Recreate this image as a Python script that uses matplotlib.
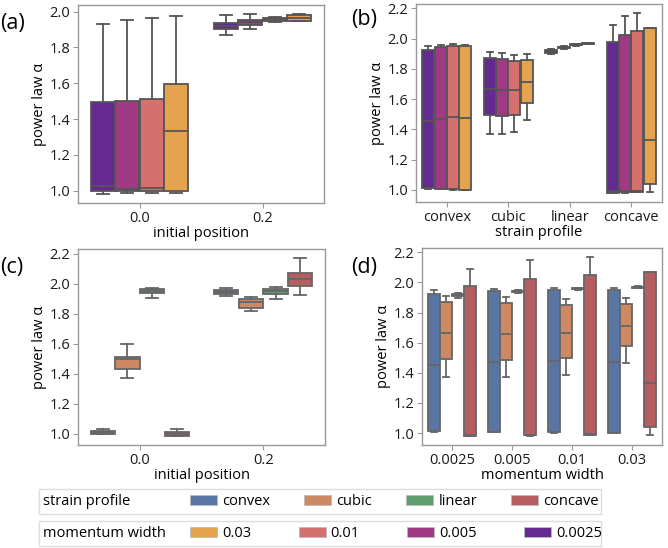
import colorsys

import matplotlib
matplotlib.use("Agg")
import matplotlib.pyplot as plt
import matplotlib.patches as mpatches
import numpy as np

plt.rcParams['font.family'] = ['Open Sans', 'DejaVu Sans']

mw_labels = ['0.0025', '0.005', '0.01', '0.03']
strain_labels = ['convex', 'cubic', 'linear', 'concave']
init_pos = ['0.0', '0.2']

# panel (a): rows = momentum width, cols = initial position
a_lo = [[0.981, 1.867], [0.985, 1.903], [0.987, 1.940], [0.989, 1.948]]
a_q1 = [[1.000, 1.905], [0.996, 1.927], [1.000, 1.946], [1.000, 1.950]]
a_med = [[1.026, 1.920], [1.011, 1.942], [1.014, 1.957], [1.333, 1.964]]
a_q3 = [[1.495, 1.935], [1.503, 1.955], [1.512, 1.966], [1.596, 1.981]]
a_hi = [[1.931, 1.981], [1.951, 1.985], [1.964, 1.970], [1.976, 1.987]]

# panels (b) and (d): rows = momentum width, cols = strain profile
b_lo = [[1.008, 1.371, 1.895, 0.980], [1.006, 1.373, 1.932, 0.983],
        [1.003, 1.386, 1.952, 0.986], [0.998, 1.463, 1.962, 0.989]]
b_q1 = [[1.011, 1.494, 1.908, 0.982], [1.009, 1.487, 1.938, 0.985],
        [1.004, 1.496, 1.955, 0.988], [0.999, 1.576, 1.964, 1.040]]
b_med = [[1.454, 1.666, 1.915, 0.990], [1.470, 1.659, 1.942, 0.990],
         [1.479, 1.662, 1.958, 0.993], [1.474, 1.713, 1.967, 1.331]]
b_q3 = [[1.924, 1.871, 1.922, 1.975], [1.946, 1.865, 1.946, 2.021],
        [1.949, 1.851, 1.961, 2.048], [1.949, 1.856, 1.970, 2.068]]
b_hi = [[1.951, 1.911, 1.930, 2.090], [1.957, 1.902, 1.950, 2.149],
        [1.964, 1.891, 1.963, 2.169], [1.960, 1.898, 1.973, 2.070]]

# panel (c): rows = strain profile, cols = initial position
c_lo = [[1.000, 1.916], [1.373, 1.818], [1.907, 1.896], [0.985, 1.927]]
c_q1 = [[1.002, 1.934], [1.434, 1.836], [1.936, 1.931], [0.987, 1.984]]
c_med = [[1.010, 1.947], [1.499, 1.881], [1.949, 1.949], [1.002, 2.033]]
c_q3 = [[1.020, 1.960], [1.512, 1.896], [1.962, 1.962], [1.013, 2.070]]
c_hi = [[1.030, 1.971], [1.596, 1.911], [1.971, 1.978], [1.035, 2.172]]


def desat(c, prop=0.75):
    r, g, b = matplotlib.colors.to_rgb(c)
    h, l, s = colorsys.rgb_to_hls(r, g, b)
    return colorsys.hls_to_rgb(h, l, s * prop)


mw_colors = ['#652a90', '#a13a85', '#d4706e', '#e5a34e']
strain_colors = [desat(c) for c in ['#4C72B0', '#DD8452', '#55A868', '#C44E52']]

W, H = 668, 548
FS = 10.5
fig = plt.figure(figsize=(W / 100, H / 100), dpi=100)


def rect(x0, y0, x1, y1):
    return [x0 / W, 1 - y1 / H, (x1 - x0) / W, (y1 - y0) / H]


def draw(ax, lo, q1, med, q3, hi, colors, xticks, xlabel, edge):
    lo, q1, med, q3, hi = [np.asarray(v) for v in (lo, q1, med, q3, hi)]
    n_hue, n_x = lo.shape
    width = 0.8 / n_hue
    for i in range(n_hue):
        pos = np.arange(n_x) + (i - (n_hue - 1) / 2) * width
        stats = [dict(whislo=lo[i, j], q1=q1[i, j], med=med[i, j],
                      q3=q3[i, j], whishi=hi[i, j], fliers=[])
                 for j in range(n_x)]
        lp = dict(color=edge, linewidth=1.3)
        ax.bxp(stats, positions=pos, widths=width * 0.98, patch_artist=True,
               showfliers=False, manage_ticks=False,
               boxprops=dict(facecolor=colors[i], edgecolor=edge, linewidth=1.3),
               medianprops=lp, whiskerprops=lp, capprops=lp)
    ax.set_xticks(range(n_x))
    ax.set_xticklabels(xticks)
    ax.set_xlim(-0.5, n_x - 0.5)
    ax.set_xlabel(xlabel, fontsize=FS, labelpad=0)
    ax.set_ylabel('power law α', fontsize=FS, labelpad=2)
    for s in ax.spines.values():
        s.set_color('#999999')
        s.set_linewidth(1.0)
    ax.tick_params(labelsize=FS, length=3.5, width=0.8, color='#999999',
                   labelcolor='#1a1a1a', pad=2)
    ax.yaxis.set_major_formatter(matplotlib.ticker.FormatStrFormatter('%.1f'))


ax_a = fig.add_axes(rect(78, 5, 324, 203))
draw(ax_a, a_lo, a_q1, a_med, a_q3, a_hi, mw_colors, init_pos,
     'initial position', '#555555')
ax_a.set_yticks([1.0, 1.2, 1.4, 1.6, 1.8, 2.0])

ax_b = fig.add_axes(rect(416, 4, 662, 202))
draw(ax_b, b_lo, b_q1, b_med, b_q3, b_hi, mw_colors,
     strain_labels, 'strain profile', '#555555')

ax_c = fig.add_axes(rect(78, 249, 325, 445))
draw(ax_c, c_lo, c_q1, c_med, c_q3, c_hi, strain_colors, init_pos,
     'initial position', '#666666')

ax_d = fig.add_axes(rect(422, 248, 662, 445))
draw(ax_d, np.array(b_lo).T, np.array(b_q1).T, np.array(b_med).T,
     np.array(b_q3).T, np.array(b_hi).T, strain_colors, mw_labels,
     'momentum width', '#666666')

for ax in (ax_b, ax_c, ax_d):
    ax.set_yticks([1.0, 1.2, 1.4, 1.6, 1.8, 2.0, 2.2])

for lab, x, y in [('(a)', 0, 23), ('(b)', 351, 20), ('(c)', 0, 268), ('(d)', 351, 267)]:
    fig.text(x / W, 1 - y / H, lab, fontsize=15.5, va='center', ha='left')


# legend rows
def legend_row(title, labels, colors, y0, y1, spacing):
    fig.patches.append(mpatches.Rectangle((39 / W, 1 - y1 / H), (601 - 39) / W,
                                          (y1 - y0) / H, transform=fig.transFigure,
                                          facecolor='white', edgecolor='#dddddd',
                                          linewidth=1.0))
    fig.text(43 / W, 1 - (y0 + y1) / 2 / H, title, fontsize=FS, va='center')
    handles = [mpatches.Patch(facecolor=c, edgecolor='#bbbbbb', linewidth=0.6)
               for c in colors]
    fig.legend(handles, labels, ncol=len(labels), loc='center left',
               bbox_to_anchor=(190 / W, 1 - (y0 + y1) / 2 / H),
               frameon=False, fontsize=FS, handlelength=1.85,
               handleheight=0.75, handletextpad=0.35, borderaxespad=0,
               borderpad=0, columnspacing=spacing)


legend_row('strain profile', strain_labels, strain_colors, 489, 514, 2.35)
legend_row('momentum width', mw_labels[::-1], mw_colors[::-1], 521, 546, 3.25)

fig.savefig('out.png', dpi=100)
